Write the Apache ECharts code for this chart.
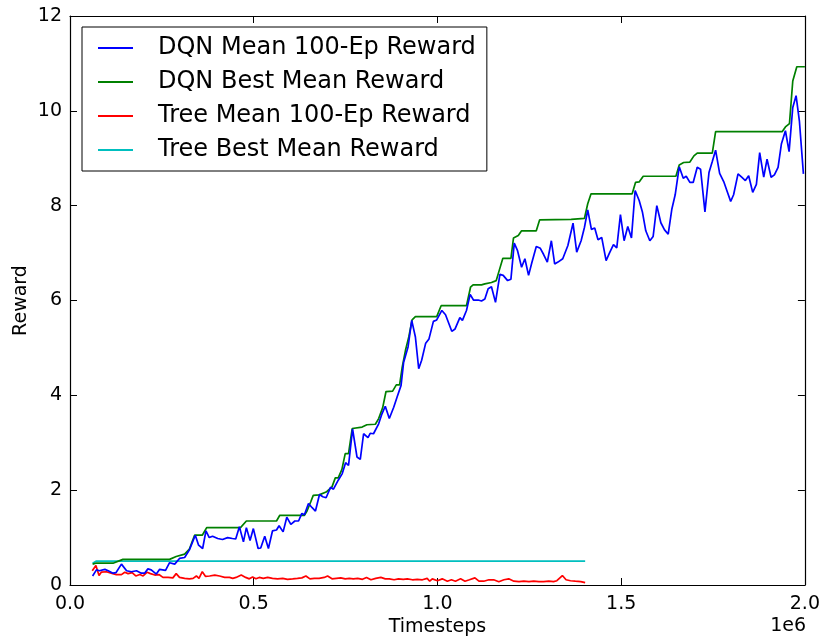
<!DOCTYPE html>
<html>
<head>
<meta charset="utf-8">
<script src="https://cdn.jsdelivr.net/npm/echarts@6/dist/echarts.min.js"></script>
<style>
  html, body { margin: 0; padding: 0; background: #fff; }
  #chart { width: 823px; height: 642px; }
</style>
</head>
<body>
<div id="chart"></div>
<script>
// x in units of 1e6 timesteps, y = reward
const seriesNames = ['DQN Mean 100-Ep Reward', 'DQN Best Mean Reward', 'Tree Mean 100-Ep Reward', 'Tree Best Mean Reward'];
const seriesColors = ['#0000ff', '#008000', '#ff0000', '#00bfbf'];

const xTicks = [0, 0.5, 1.0, 1.5, 2.0];
const yTicks = [0, 2, 4, 6, 8, 10, 12];

const dqnMean = [
  [0.0615,0.19],[0.072,0.32],[0.08,0.30],[0.095,0.33],[0.104,0.30],[0.117,0.25],[0.125,0.26],[0.14,0.44],
  [0.154,0.30],[0.167,0.28],[0.181,0.30],[0.194,0.25],[0.203,0.25],[0.212,0.34],[0.221,0.32],[0.235,0.23],
  [0.244,0.33],[0.26,0.31],[0.271,0.47],[0.285,0.44],[0.298,0.56],[0.312,0.58],[0.325,0.74],[0.341,1.05],
  [0.350,0.84],[0.361,0.77],[0.370,1.14],[0.379,1.0],[0.388,1.03],[0.402,0.98],[0.415,0.96],[0.429,1.0],
  [0.442,0.98],[0.451,0.97],[0.461,1.23],[0.472,0.91],[0.480,1.21],[0.490,0.94],[0.499,1.19],[0.512,0.77],
  [0.519,0.78],[0.530,1.03],[0.540,0.77],[0.551,1.14],[0.562,1.16],[0.569,1.25],[0.580,1.12],[0.590,1.43],
  [0.601,1.28],[0.612,1.35],[0.622,1.35],[0.631,1.51],[0.638,1.48],[0.649,1.72],[0.659,1.63],[0.668,1.56],
  [0.679,1.91],[0.688,1.86],[0.697,1.84],[0.709,2.06],[0.717,2.02],[0.730,2.21],[0.741,2.35],[0.750,2.58],
  [0.758,2.52],[0.769,3.29],[0.781,2.70],[0.790,2.65],[0.799,3.19],[0.811,3.11],[0.817,3.20],[0.826,3.19],
  [0.840,3.40],[0.849,3.61],[0.858,3.77],[0.869,3.51],[0.881,3.75],[0.890,3.96],[0.901,4.21],[0.908,4.70],
  [0.920,5.02],[0.930,5.58],[0.940,5.23],[0.949,4.56],[0.957,4.74],[0.968,5.10],[0.977,5.19],[0.989,5.56],
  [0.998,5.59],[1.012,5.79],[1.022,5.70],[1.039,5.35],[1.048,5.40],[1.061,5.64],[1.068,5.58],[1.079,5.79],
  [1.089,6.13],[1.098,6.01],[1.111,6.01],[1.120,5.99],[1.129,6.03],[1.138,6.25],[1.147,6.29],[1.158,5.96],
  [1.170,6.55],[1.179,6.53],[1.191,6.42],[1.200,6.45],[1.209,7.21],[1.218,7.05],[1.229,6.70],[1.238,6.88],
  [1.248,6.53],[1.257,6.80],[1.269,7.14],[1.280,7.10],[1.289,6.97],[1.299,6.81],[1.310,7.26],[1.319,6.77],
  [1.328,6.81],[1.341,6.88],[1.355,7.16],[1.369,7.63],[1.379,7.02],[1.391,7.26],[1.400,7.54],[1.409,7.91],
  [1.419,7.50],[1.428,7.53],[1.437,7.28],[1.447,7.33],[1.459,6.84],[1.468,7.0],[1.479,7.18],[1.488,7.11],
  [1.498,7.81],[1.508,7.26],[1.518,7.56],[1.528,7.32],[1.538,8.32],[1.549,8.11],[1.558,7.86],[1.567,7.47],
  [1.578,7.26],[1.587,7.35],[1.597,8.0],[1.608,7.64],[1.618,7.49],[1.628,7.40],[1.638,7.93],[1.647,8.23],
  [1.658,8.82],[1.669,8.58],[1.677,8.62],[1.687,8.49],[1.696,8.49],[1.707,8.81],[1.716,8.77],[1.728,7.87],
  [1.739,8.70],[1.748,8.93],[1.757,9.17],[1.768,8.68],[1.780,8.49],[1.789,8.29],[1.798,8.09],[1.806,8.23],
  [1.818,8.67],[1.828,8.60],[1.838,8.53],[1.847,8.63],[1.858,8.28],[1.868,8.45],[1.877,9.12],[1.888,8.60],
  [1.897,8.98],[1.908,8.60],[1.917,8.65],[1.927,8.81],[1.936,9.30],[1.947,9.58],[1.957,9.14],[1.967,10.07],
  [1.976,10.32],[1.985,9.79],[1.996,8.67]
];

const dqnBest = [
  [0.0615,0.44],[0.07,0.46],[0.117,0.46],[0.144,0.54],[0.271,0.54],[0.289,0.60],[0.312,0.65],[0.325,0.76],
  [0.339,1.05],[0.36,1.05],[0.372,1.21],[0.464,1.21],[0.48,1.35],[0.562,1.35],[0.571,1.47],[0.638,1.47],
  [0.645,1.56],[0.655,1.75],[0.662,1.89],[0.678,1.90],[0.697,1.96],[0.713,2.07],[0.722,2.26],[0.730,2.26],
  [0.740,2.44],[0.749,2.77],[0.758,2.77],[0.768,3.30],[0.795,3.33],[0.808,3.38],[0.831,3.39],[0.840,3.51],
  [0.851,3.74],[0.860,4.08],[0.878,4.09],[0.888,4.22],[0.897,4.22],[0.904,4.59],[0.913,4.95],[0.922,5.23],
  [0.931,5.59],[0.940,5.66],[0.998,5.66],[1.010,5.89],[1.079,5.89],[1.090,6.28],[1.097,6.33],[1.120,6.33],
  [1.129,6.35],[1.147,6.38],[1.160,6.42],[1.168,6.63],[1.178,6.89],[1.200,6.89],[1.207,7.32],[1.220,7.37],
  [1.229,7.47],[1.269,7.47],[1.278,7.70],[1.364,7.71],[1.369,7.73],[1.400,7.73],[1.409,8.04],[1.418,8.25],
  [1.530,8.25],[1.539,8.49],[1.549,8.50],[1.560,8.62],[1.649,8.62],[1.658,8.86],[1.670,8.91],[1.687,8.92],
  [1.698,9.05],[1.707,9.11],[1.748,9.11],[1.757,9.56],[1.938,9.56],[1.947,9.66],[1.958,9.73],[1.967,10.63],
  [1.978,10.93],[2.0,10.93]
];

const treeMean = [
  [0.0606,0.30],[0.0705,0.41],[0.079,0.20],[0.085,0.27],[0.099,0.28],[0.112,0.25],[0.126,0.22],[0.140,0.22],
  [0.149,0.27],[0.158,0.24],[0.169,0.26],[0.179,0.19],[0.190,0.22],[0.199,0.19],[0.210,0.27],[0.219,0.24],
  [0.231,0.21],[0.242,0.22],[0.253,0.16],[0.267,0.16],[0.280,0.15],[0.289,0.24],[0.298,0.16],[0.312,0.14],
  [0.325,0.13],[0.335,0.14],[0.344,0.19],[0.351,0.14],[0.360,0.28],[0.369,0.18],[0.380,0.19],[0.394,0.21],
  [0.407,0.19],[0.421,0.16],[0.434,0.16],[0.443,0.14],[0.452,0.16],[0.466,0.21],[0.478,0.16],[0.488,0.13],
  [0.497,0.17],[0.506,0.13],[0.515,0.16],[0.526,0.14],[0.538,0.16],[0.551,0.14],[0.565,0.13],[0.579,0.14],
  [0.592,0.12],[0.606,0.13],[0.619,0.14],[0.631,0.15],[0.642,0.19],[0.653,0.13],[0.665,0.14],[0.678,0.14],
  [0.692,0.16],[0.701,0.19],[0.713,0.13],[0.725,0.14],[0.737,0.15],[0.749,0.13],[0.760,0.14],[0.771,0.13],
  [0.783,0.14],[0.796,0.12],[0.807,0.16],[0.819,0.11],[0.832,0.14],[0.846,0.16],[0.858,0.13],[0.869,0.13],
  [0.882,0.11],[0.894,0.13],[0.907,0.12],[0.918,0.13],[0.932,0.11],[0.945,0.12],[0.959,0.11],[0.972,0.14],
  [0.979,0.08],[0.986,0.13],[1.000,0.09],[1.013,0.13],[1.027,0.08],[1.038,0.11],[1.049,0.08],[1.063,0.13],
  [1.075,0.08],[1.087,0.11],[1.102,0.15],[1.113,0.08],[1.126,0.08],[1.140,0.11],[1.153,0.11],[1.167,0.07],
  [1.181,0.11],[1.194,0.13],[1.208,0.08],[1.222,0.07],[1.235,0.08],[1.249,0.07],[1.262,0.08],[1.276,0.07],
  [1.289,0.07],[1.303,0.08],[1.316,0.07],[1.325,0.09],[1.340,0.20],[1.350,0.11],[1.362,0.09],[1.375,0.08],
  [1.390,0.07],[1.402,0.05]
];

const treeBest = [[0.0615,0.46],[0.072,0.505],[1.402,0.505]];

const FONT = 'DejaVu Sans';
const chart = echarts.init(document.getElementById('chart'));

const axisCommon = {
  type: 'value',
  axisLine: { show: true, onZero: false, lineStyle: { color: '#000', width: 1.2 } },
  axisTick: { show: true, inside: true, length: 7, lineStyle: { color: '#000', width: 1 } },
  splitLine: { show: false }
};

chart.setOption({
  animation: false,
  backgroundColor: '#fff',
  textStyle: { fontFamily: FONT },
  grid: { left: 70, right: 16, top: 16, bottom: 56, containLabel: false },
  legend: {
    orient: 'vertical',
    left: 82,
    top: 27,
    padding: [9, 11, 9, 16],
    itemGap: 10,
    itemWidth: 35,
    itemHeight: 2,
    icon: 'rect',
    borderColor: '#000',
    borderWidth: 1,
    backgroundColor: '#fff',
    textStyle: { fontFamily: FONT, fontSize: 24, color: '#000', padding: [0, 0, 0, 20], lineHeight: 24 },
    data: seriesNames
  },
  xAxis: [
    Object.assign({}, axisCommon, {
      position: 'bottom', min: 0, max: 2, interval: 0.5,
      name: 'Timesteps', nameLocation: 'middle', nameGap: 33, nameMoveOverlap: false,
      nameTextStyle: { fontFamily: FONT, fontSize: 19, color: '#000' },
      axisLabel: { color: '#000', fontFamily: FONT, fontSize: 19, margin: 10,
        formatter: v => v.toFixed(1) }
    }),
    Object.assign({}, axisCommon, {
      position: 'top', min: 0, max: 2, interval: 0.5, axisLabel: { show: false }
    })
  ],
  yAxis: [
    Object.assign({}, axisCommon, {
      position: 'left', min: 0, max: 12, interval: 2,
      name: 'Reward', nameLocation: 'middle', nameGap: 39, nameRotate: 90, nameMoveOverlap: false,
      nameTextStyle: { fontFamily: FONT, fontSize: 19, color: '#000' },
      axisLabel: { color: '#000', fontFamily: FONT, fontSize: 19, margin: 8 }
    }),
    Object.assign({}, axisCommon, {
      position: 'right', min: 0, max: 12, interval: 2, axisLabel: { show: false }
    })
  ],
  graphic: [{
    type: 'text', right: 17, top: 617,
    style: { text: '1e6', font: '19px "DejaVu Sans"', fill: '#000' }
  }],
  series: [dqnMean, dqnBest, treeMean, treeBest].map((d, i) => ({
    name: seriesNames[i],
    type: 'line',
    data: d,
    symbol: 'none',
    showSymbol: false,
    color: seriesColors[i],
    lineStyle: { color: seriesColors[i], width: 1.7 },
    z: 10 - i
  }))
});
</script>
</body>
</html>
